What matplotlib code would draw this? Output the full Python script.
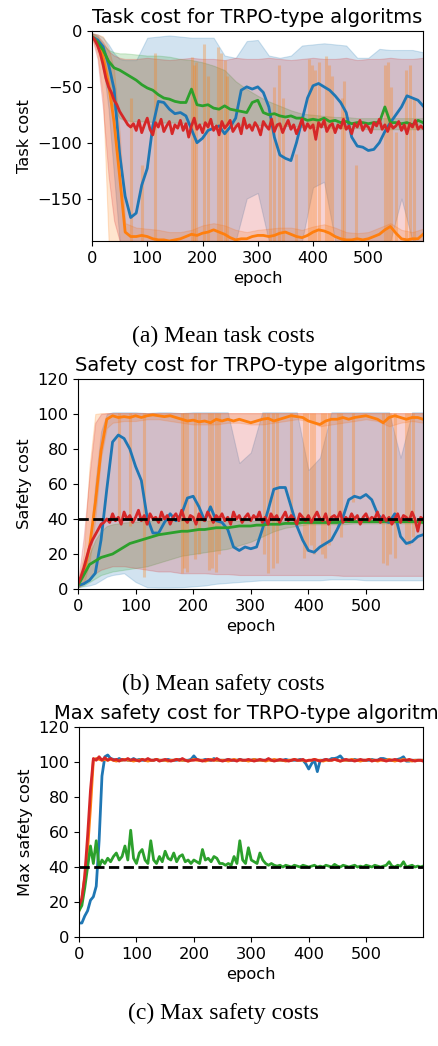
import numpy as np
import matplotlib
matplotlib.use('Agg')
import matplotlib.pyplot as plt

# epoch grids
ep10 = np.r_[np.arange(0, 600, 10), 599]
ep5 = np.r_[np.arange(0, 600, 5), 599]
epb = np.r_[0, 10, 20, 30, 40, 50, 60, np.arange(80, 600, 20), 599]

# ---------------- (a) mean task cost ----------------
blue_task = [-5, -8, -14, -30, -52, -110, -148, -167, -163, -138,
             -123, -85, -63, -64, -70, -74, -73, -76, -88, -100,
             -96, -89, -87, -85, -92, -86, -78, -53, -50, -52,
             -50, -55, -68, -95, -111, -114, -116, -100, -80, -60,
             -49, -47, -50, -53, -58, -64, -73, -95, -103, -104,
             -107, -106, -100, -90, -82, -75, -68, -58, -60, -62,
             -67]
orange_task = [-5, -10, -23, -47, -82, -130, -180, -184, -184, -183,
               -184, -186, -187, -187, -188, -187, -186, -184, -182, -183,
               -181, -180, -178, -180, -182, -185, -187, -186, -186, -184,
               -183, -183, -184, -183, -181, -180, -182, -184, -185, -183,
               -180, -178, -179, -181, -184, -186, -187, -187, -186, -187,
               -186, -184, -182, -178, -175, -181, -186, -187, -186, -186,
               -182]
green_task = [-5, -10, -17, -27, -33, -35, -38, -41, -44, -48,
              -51, -53, -57, -60, -61, -63, -64, -64, -52, -66,
              -67, -66, -69, -70, -67, -70, -71, -72, -73, -64,
              -62, -73, -75, -74, -76, -77, -76, -78, -78, -80,
              -79, -80, -78, -81, -80, -82, -81, -83, -82, -82,
              -83, -82, -82, -68, -82, -82, -83, -82, -84, -80,
              -82]
red_task = [-5, -8, -13, -20, -30, -42, -50, -55, -62, -66,
            -72, -76, -80, -84, -86, -83, -89, -80, -91, -84,
            -78, -88, -93, -82, -86, -79, -90, -85, -81, -92,
            -84, -87, -80, -89, -83, -95, -85, -78, -88, -84,
            -91, -82, -86, -79, -89, -85, -93, -81, -87, -84,
            -80, -90, -86, -83, -92, -78, -87, -84, -89, -82,
            -86, -93, -81, -85, -88, -79, -90, -84, -83, -91,
            -85, -80, -88, -84, -92, -86, -79, -89, -83, -87,
            -84, -97, -82, -86, -80, -90, -85, -83, -91, -84,
            -87, -79, -88, -85, -92, -83, -86, -80, -89, -84,
            -86, -91, -82, -85, -79, -88, -84, -90, -83, -87,
            -85, -81, -89, -84, -92, -83, -86, -80, -88, -85,
            -87]

blue_hi_a = [-2, -3, -6, -12, -20, -25, -26,
             -26, -6, -5, -4, -5, -6, -6, -6, -22, -24,
             -9, -8, -22, -24, -22, -13, -12, -11, -12, -13,
             -24, -24, -16, -17, -17, -17,
             -19]
blue_lo_a = [-6, -12, -30, -70, -130, -188, -188,
             -188, -188, -188, -188, -188, -188, -188, -188, -188, -188,
             -150, -145, -188, -188, -188, -188, -140, -135, -188, -188,
             -188, -188, -188, -188, -150, -188,
             -188]
red_hi_a = [-2, -4, -10, -18, -22, -24, -25,
            -25, -24, -25, -26, -25, -24, -25, -25, -26, -24,
            -25, -25, -24, -25, -26, -25, -24, -25, -25, -24,
            -26, -25, -25, -24, -25, -25,
            -24]
red_lo_a = [-6, -25, -70, -130, -170, -188, -188] + [-188] * 27
green_hi_a = [-2, -5, -12, -17, -19, -20, -20,
              -21, -22, -22, -23, -25, -26, -28, -31, -35, -45,
              -52, -58, -63, -67, -71, -74, -75, -76, -77, -77,
              -78, -78, -78, -78, -78, -78,
              -78]
green_lo_a = [-6, -15, -35, -55, -70, -78, -80,
              -81, -81, -82, -82, -82, -83, -83, -83, -84, -84,
              -84, -84, -85, -85, -85, -86, -86, -86, -87, -87,
              -87, -88, -88, -88, -88, -88,
              -88]
orange_hi_a = [-2, -3, -5, -15, -35, -90, -172,
               -176, -177, -178, -180, -180, -178, -174, -172, -174, -178,
               -180, -178, -177, -176, -176, -178, -175, -173, -176, -180,
               -181, -180, -176, -172, -178, -180,
               -177]
orange_lo_a = [-6, -20, -60, -188, -188, -188, -188] + [-188] * 27

# orange seeds that briefly jump away from the converged value
spike_ep = [71, 90, 114, 181, 184, 189, 203, 210, 228, 233, 240, 245,
            323, 330, 338, 346, 369, 393, 398, 404, 410, 423, 428, 435,
            452, 456, 477, 530, 536, 541, 551, 569, 575, 582]
spike_task_top = [-60, -120, -20, -23, -30, -28, -12, -40, -14, -20, -26, -40,
                  -76, -50, -30, -60, -110, -25, -30, -35, -28, -22, -30, -40,
                  -60, -45, -120, -30, -28, -50, -90, -35, -30, -60]
spike_safety_bot = [40, 36, 7, 9, 12, 10, 17, 20, 11, 12, 10, 20,
                    20, 9, 12, 15, 40, 18, 22, 25, 20, 20, 18, 25,
                    35, 30, 50, 15, 14, 20, 18, 28, 25, 30]

# ---------------- (b) mean safety cost ----------------
blue_safety = [2, 3, 5, 9, 28, 57, 84, 88, 86, 80,
               70, 62, 41, 32, 32, 38, 43, 39, 43, 52,
               53, 47, 39, 47, 39, 38, 34, 24, 22, 24,
               23, 24, 34, 45, 57, 58, 58, 47, 36, 28,
               22, 21, 24, 26, 28, 34, 41, 51, 53, 52,
               54, 51, 43, 39, 38, 43, 30, 26, 27, 30,
               31]
orange_safety = [2, 9, 24, 49, 79, 97, 99, 98, 98.5, 98,
                 99, 98, 99, 99.5, 99, 98.5, 99, 98, 97, 96,
                 96.5, 95.5, 96, 95, 97, 96, 97, 96, 97, 96,
                 95, 96, 97, 97.5, 96, 97, 98, 99, 98.5, 98,
                 96, 95, 94, 96, 97, 97, 98, 97, 98, 98.5,
                 99, 98, 97, 95, 98, 99, 98, 97, 98, 98,
                 97]
green_safety = [2, 8, 14, 16, 18, 19, 20, 22, 24, 26,
                27, 28, 29, 30, 31, 31.5, 32, 32.5, 33, 33,
                33.5, 34, 34, 34.5, 35, 35, 35, 35.5, 36, 36,
                36, 36.5, 36.5, 37, 37, 37, 37.5, 37.5, 37.5, 38,
                38, 38, 38, 38, 38, 38, 38.5, 38.5, 38.5, 38.5,
                38.5, 38.5, 38.5, 38.5, 39, 38.5, 38.5, 38.5, 38.5, 38.5,
                38]
red_safety = [3, 7, 12, 18, 24, 28, 31, 34, 37, 38,
              40, 38, 43, 39, 41, 37, 44, 40, 42, 38,
              41, 45, 39, 42, 37, 43, 40, 41, 38, 44,
              40, 42, 37, 41, 43, 39, 45, 40, 38, 42,
              41, 37, 43, 40, 39, 44, 41, 38, 42, 40,
              43, 39, 41, 37, 44, 40, 42, 38, 41, 43,
              39, 42, 40, 44, 38, 41, 37, 43, 40, 42,
              38, 41, 44, 39, 42, 40, 37, 43, 41, 39,
              42, 38, 41, 44, 40, 39, 43, 37, 41, 42,
              40, 44, 38, 41, 39, 43, 40, 42, 37, 41,
              43, 39, 41, 40, 44, 38, 42, 39, 41, 37,
              40, 43, 38, 42, 41, 39, 44, 40, 33, 41,
              40]

blue_hi_b = [3, 10, 25, 60, 90, 100, 101,
             101, 101, 100.5, 101, 101, 100.5, 101, 101, 101, 101,
             72, 78, 101, 101, 101, 101, 68, 75, 101, 101,
             101, 101, 101, 101, 75, 101,
             101]
blue_lo_b = [1, 1.5, 2, 3, 5, 7, 8,
             9, 4, 1, 0.8, 0.8, 1, 1.5, 2, 3, 3.5,
             4, 4.5, 5, 5, 5, 5, 5, 5, 5.5, 5.5,
             5.5, 5, 5, 5, 5, 5,
             5]
red_hi_b = [4, 30, 65, 95, 100, 100.5, 100.5] + [100.5] * 27
red_lo_b = [1, 3, 6, 9, 11, 12, 13,
            13, 12, 11, 10, 10, 9, 9, 9, 8.5, 8.5,
            8, 8, 8, 8, 8, 8, 8, 8, 8, 7.5,
            7.5, 7.5, 7.5, 7.5, 7.5, 7.5,
            7.5]
green_hi_b = [2, 10, 20, 28, 33, 36, 37,
              38, 38.5, 39, 39, 39, 39, 39, 39, 39, 39,
              39, 39, 39, 39, 39, 39, 39.5, 39.5, 39.5, 39.5,
              39.5, 39.5, 39.5, 39.5, 39.5, 39.5,
              39.5]
green_lo_b = [1, 2, 4, 6, 8, 9, 10,
              11, 12, 13, 15, 17, 19, 20, 21, 22, 23,
              25, 27, 30, 33, 35, 36, 37, 37, 37, 37,
              37.5, 37.5, 37.5, 37.5, 37.5, 37.5,
              37.5]
orange_hi_b = [3, 20, 70, 100, 100.5, 100.5, 100.5] + [100.5] * 27
orange_lo_b = [1, 3, 15, 40, 75, 92, 95,
               96, 96, 97, 97, 96, 95, 94, 94, 94, 95,
               95, 94, 94, 95, 96, 97, 96, 93, 94, 95,
               96, 97, 96, 93, 95, 96,
               95]

# ---------------- (c) max safety cost ----------------
blue_max = [8, 8, 12, 15, 21, 23, 29, 55, 92, 103,
            104, 102, 101.5, 101, 102, 101, 101.5, 101, 101, 102,
            101, 101.5, 101, 101, 101.5, 101, 101, 101.5, 101, 101,
            101, 101.5, 101, 101, 101, 101.5, 101, 101, 101, 101.5,
            103.5, 101.5, 101, 101, 101.5, 101, 101, 102, 101, 101,
            101, 101, 101.5, 101, 101, 101, 101.5, 101, 101, 101,
            101, 101.5, 101, 101, 101, 101, 101.5, 101, 101, 101,
            101, 101, 101.5, 101, 101, 101, 101, 101.5, 101, 99,
            96, 99, 101, 94.5, 101, 101, 101.5, 101, 102, 102,
            102.5, 103.5, 101.5, 101, 101, 101, 101.5, 101, 101, 101,
            101, 101, 101.5, 101, 101, 102, 102, 101.5, 101, 101,
            101, 101.5, 102, 103, 100.5, 100.5, 101, 101, 101, 101,
            101]
orange_max = [15, 22, 34, 50, 74, 101, 102, 101.5, 101, 101.5,
              101, 101.5, 101, 100.5, 101, 101, 101.5, 101, 101, 100.5,
              101, 101, 101.5, 101, 100.5, 101, 101, 101.5, 101, 101,
              101, 100.5, 101, 101, 101.5, 101, 101, 101, 100.5, 101,
              101.5, 101, 101, 101, 100.5, 101, 101.5, 101, 101, 101,
              101, 101, 100.5, 101, 101.5, 101, 101, 101, 101, 100.5,
              101, 101.5, 101, 101, 101, 100.5, 101, 101, 101.5, 101,
              101, 101, 100.5, 101, 101, 101.5, 101, 101, 101, 100.5,
              101, 101, 101.5, 101, 101, 100.5, 101, 101, 101, 101.5,
              101, 100.5, 101, 101, 101, 101.5, 101, 101, 100.5, 101,
              101, 101.5, 101, 101, 100.5, 101, 101, 101, 101.5, 101,
              100.5, 101, 101, 101.5, 101, 101, 100.5, 101, 101, 101,
              101]
green_max = [15, 18, 28, 40, 52, 42, 55, 40, 44, 42,
             45, 43, 46, 48, 44, 46, 52, 44, 61, 45,
             42, 48, 50, 44, 42, 55, 44, 42, 46, 43,
             49, 45, 44, 48, 43, 46, 47, 43, 44, 42,
             44, 43, 42, 50, 44, 45, 43, 46, 45, 42,
             42, 41, 42, 41, 46, 42, 55, 44, 42, 51,
             44, 43, 42, 48, 44, 42, 41, 42, 41, 40.5,
             41, 40, 41, 40.5, 40, 41, 40.5, 40, 41, 40.5,
             40, 40.5, 41, 40, 40.5, 40, 41, 40.5, 40, 41.5,
             40.5, 40, 41, 40.5, 40, 40.5, 41, 40, 40.5, 40,
             41, 40.5, 40, 41, 40.5, 40, 40.5, 41, 43, 40.5,
             40, 41, 40.5, 43, 40, 40.5, 41, 40, 40.5, 40,
             40.5]
red_max = [18, 22, 35, 58, 84, 102, 101, 103, 101, 102.5,
           101, 102, 101, 101.5, 100.5, 101.5, 101, 102, 101, 101.5,
           101, 100.5, 101.5, 101, 102, 101, 101, 101.5, 100.5, 101,
           101.5, 101, 100.5, 101, 101.5, 101, 102, 101, 100.5, 101,
           101, 101.5, 101, 100.5, 101, 101.5, 101, 101, 102, 101,
           100.5, 101, 101.5, 101, 101, 100.5, 101.5, 101, 101, 101.5,
           101, 100.5, 101, 101.5, 101, 101, 102, 101, 100.5, 101,
           101.5, 101, 101, 100.5, 101, 101.5, 101, 101, 101.5, 100.5,
           101, 101, 101.5, 101, 100.5, 101, 101.5, 101, 101, 101.5,
           101, 100.5, 101, 101.5, 101, 101, 100.5, 101, 101.5, 101,
           101, 101.5, 100.5, 101, 101, 101.5, 101, 100.5, 101, 101,
           101.5, 101, 100.5, 101, 101, 101.5, 101, 100.5, 101, 101,
           100.5]

safety_limit = 40

plt.rcParams['font.size'] = 11.7
colors = ['tab:blue', 'tab:orange', 'tab:green', 'tab:red']

fig = plt.figure(figsize=(4.38, 10.46), dpi=100)

ax1 = fig.add_axes([92 / 438, 1 - 241 / 1046, 331 / 438, 210 / 1046])
ax2 = fig.add_axes([78 / 438, 1 - 589 / 1046, 345 / 438, 210 / 1046])
ax3 = fig.add_axes([79 / 438, 1 - 937 / 1046, 344 / 438, 210 / 1046])

# (a)
bands_a = [(blue_lo_a, blue_hi_a), (orange_lo_a, orange_hi_a),
           (green_lo_a, green_hi_a), (red_lo_a, red_hi_a)]
for (lo, hi), c in zip(bands_a, colors):
    ax1.fill_between(epb, lo, hi, color=c, alpha=0.2, lw=0.8)
ax1.vlines(spike_ep, -188, spike_task_top, color='tab:orange', alpha=0.3, lw=2.2)
ax1.plot(ep10, blue_task, color=colors[0], lw=2)
ax1.plot(ep10, orange_task, color=colors[1], lw=2)
ax1.plot(ep10, green_task, color=colors[2], lw=2)
ax1.plot(ep5, red_task, color=colors[3], lw=2)
ax1.set_xlim(0, 599)
ax1.set_ylim(-188, 0)
ax1.set_yticks([0, -50, -100, -150])
ax1.set_xticks([0, 100, 200, 300, 400, 500])
ax1.set_title('Task cost for TRPO-type algoritms', fontsize=14)
ax1.set_xlabel('epoch')
ax1.set_ylabel('Task cost')

# (b)
bands_b = [(blue_lo_b, blue_hi_b), (orange_lo_b, orange_hi_b),
           (green_lo_b, green_hi_b), (red_lo_b, red_hi_b)]
for (lo, hi), c in zip(bands_b, colors):
    ax2.fill_between(epb, lo, hi, color=c, alpha=0.2, lw=0.8)
ax2.vlines(spike_ep, spike_safety_bot, 100.5, color='tab:orange', alpha=0.3, lw=2.2)
ax2.plot(ep10, blue_safety, color=colors[0], lw=2)
ax2.plot(ep10, orange_safety, color=colors[1], lw=2)
ax2.plot(ep10, green_safety, color=colors[2], lw=2)
ax2.plot(ep5, red_safety, color=colors[3], lw=2)
ax2.axhline(safety_limit, color='black', ls='--', lw=2)
ax2.set_xlim(0, 599)
ax2.set_ylim(0, 120)
ax2.set_xticks([0, 100, 200, 300, 400, 500])
ax2.set_title('Safety cost for TRPO-type algoritms', fontsize=14)
ax2.set_xlabel('epoch')
ax2.set_ylabel('Safety cost')

# (c)
ax3.plot(ep5, blue_max, color=colors[0], lw=2)
ax3.plot(ep5, orange_max, color=colors[1], lw=2)
ax3.plot(ep5, green_max, color=colors[2], lw=2)
ax3.plot(ep5, red_max, color=colors[3], lw=2)
ax3.axhline(safety_limit, color='black', ls='--', lw=2)
ax3.set_xlim(0, 599)
ax3.set_ylim(0, 120)
ax3.set_xticks([0, 100, 200, 300, 400, 500])
ax3.set_title('Max safety cost for TRPO-type algoritms', fontsize=14)
ax3.set_xlabel('epoch')
ax3.set_ylabel('Max safety cost')

cap = dict(ha='center', va='center', family='Liberation Serif', fontsize=17)
fig.text(0.51, 1 - 336 / 1046, '(a) Mean task costs', **cap)
fig.text(0.51, 1 - 684 / 1046, '(b) Mean safety costs', **cap)
fig.text(0.51, 1 - 1013 / 1046, '(c) Max safety costs', **cap)

fig.savefig('out.png', dpi=100)
